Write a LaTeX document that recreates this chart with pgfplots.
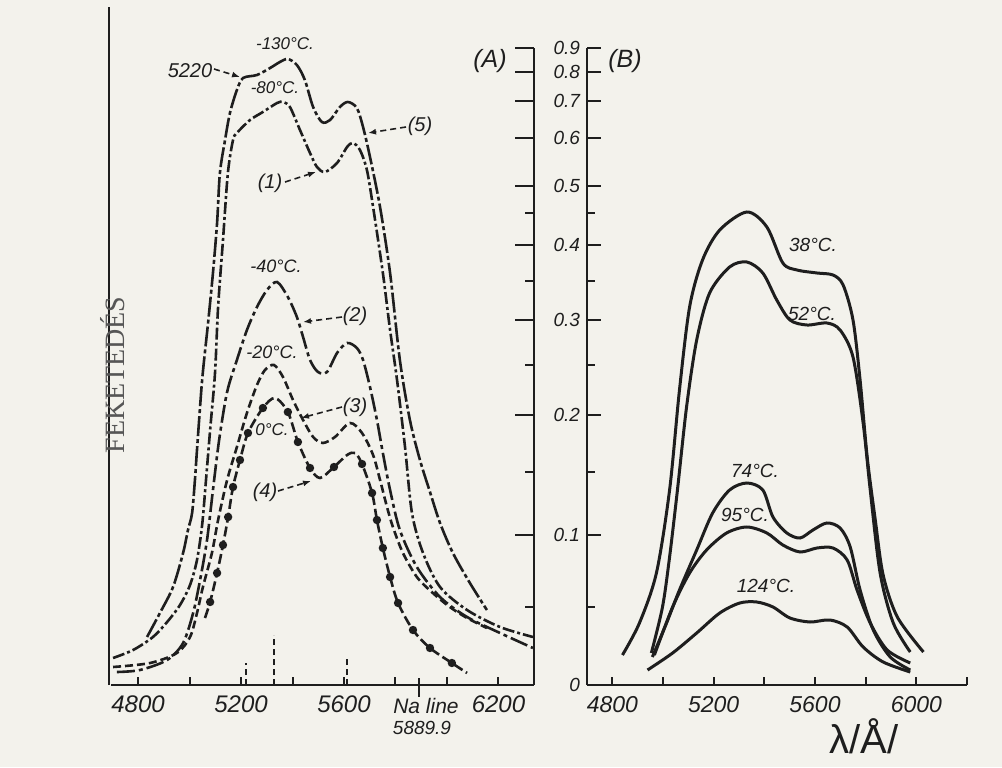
\documentclass[border=0pt]{standalone}
\usepackage{pgfplots}
\pgfplotsset{compat=1.18}
\usepackage{fontspec}
\setmainfont{Liberation Sans}
\newfontfamily\serifA{Liberation Serif}
\usetikzlibrary{arrows.meta}
\definecolor{ink}{RGB}{30,30,30}
\definecolor{paper}{RGB}{243,242,236}
\newcommand\hand[1]{\fontsize{#1}{#1}\selectfont\itshape}

\pgfplotsset{
  panel/.style={
    scale only axis, height=318.5pt, ymin=0, ymax=637,
    axis x line*=bottom, tick align=inside,
    axis line style={ink, line width=1pt},
    every tick/.style={ink, line width=1pt},
    xtick style={/pgfplots/major tick length=4pt},
    xticklabel style={font=\hand{12}, ink, yshift=-2pt},
    minor ytick={78,213,320,404,472},
  },
  c5/.style={ink, line width=1.3pt, smooth, dash pattern=on 10pt off 1.5pt on 2pt off 1.5pt},
  c1/.style={ink, line width=1.3pt, smooth, dash pattern=on 6pt off 1.5pt on 1.5pt off 1.5pt},
  c2/.style={ink, line width=1.3pt, smooth, dash pattern=on 9pt off 2pt on 2pt off 2pt},
  c3/.style={ink, line width=1.3pt, smooth, dash pattern=on 4pt off 2pt},
  c4/.style={ink, line width=1.3pt, smooth, dash pattern=on 5pt off 2pt},
  bc/.style={ink, line width=1.5pt, smooth},
}

\begin{document}
\begin{tikzpicture}[x=0.5pt, y=0.5pt,
  arr/.style={ink, line width=0.8pt, dash pattern=on 3pt off 2pt, -{Latex[length=4pt,width=3pt]}}]
\fill[paper] (0,0) rectangle (1002,767);
\useasboundingbox (0,0) rectangle (1002,767);

% panel A
\begin{axis}[panel, at={(55.5pt,41pt)}, anchor=south west, width=211.5pt,
  xmin=4695, xmax=6338, axis y line*=right,
  xtick={4800,5000,...,6200}, xticklabels={4800,,5200,,5600,,,6200},
  ytick={150,270,365,440,499,547,584,613,637}, yticklabels={,,,,,,,,},
  ytick style={/pgfplots/major tick length=9.5pt, /pgfplots/minor tick length=4.5pt},
]
% (5) -130 C
\addplot[c5] coordinates {
 (4835,48)(4885,72)(4936,98)(4975,132)(4994,155)(5010,172)(5021,205)(5029,235)
 (5049,305)(5072,362)(5091,412)(5107,462)(5118,512)(5138,545)(5157,572)(5184,595)
 (5208,607)(5262,610)(5313,617)(5351,623)(5382,626)(5417,620)(5448,605)(5480,578)
 (5514,563)(5546,565)(5584,578)(5615,583)(5650,577)(5674,558)(5701,528)(5740,478)
 (5779,412)(5817,325)(5856,265)(5895,225)(5934,193)(5973,162)(6023,132)(6089,102)(6155,75)};
% (1) -80 C
\addplot[c1] coordinates {
 (4703,27)(4781,35)(4858,48)(4913,63)(4963,80)(5002,100)(5029,125)(5049,160)
 (5064,205)(5080,255)(5099,312)(5111,378)(5130,445)(5149,512)(5169,545)(5184,552)
 (5235,565)(5285,573)(5340,582)(5363,583)(5390,578)(5429,555)(5468,532)(5495,518)
 (5526,513)(5573,522)(5612,538)(5635,542)(5662,535)(5689,515)(5713,478)(5751,412)
 (5779,355)(5806,305)(5837,238)(5864,172)(5907,132)(5973,98)(6078,75)(6206,58)(6334,48)};
% (2) -40 C
\addplot[c2] coordinates {
 (4718,13)(4808,15)(4913,25)(4975,42)(5014,72)(5041,105)(5068,145)(5091,195)
 (5115,245)(5146,293)(5184,325)(5223,355)(5262,378)(5301,395)(5340,403)(5382,388)
 (5417,368)(5441,348)(5468,325)(5499,313)(5534,313)(5573,332)(5612,342)(5650,337)
 (5674,325)(5701,298)(5728,265)(5751,232)(5779,195)(5817,155)(5883,118)(5973,88)
 (6078,68)(6206,52)(6334,37)};
% (3) -20 C
\addplot[c3] coordinates {
 (4703,18)(4847,22)(4951,32)(5002,48)(5029,72)(5052,98)(5087,132)(5111,165)
 (5146,205)(5184,238)(5223,272)(5262,300)(5293,315)(5328,320)(5363,308)(5402,285)
 (5441,265)(5480,248)(5518,242)(5565,248)(5623,262)(5670,252)(5713,230)(5740,205)
 (5767,178)(5790,158)(5829,132)(5883,108)(5945,92)(6011,78)(6078,67)(6155,57)};
% (4) 0 C
\addplot[c4, mark=*, mark size=1.4pt, mark options={solid, fill=ink},
  mark indices={2,3,4,5,6,7,8,9,11,12,13,15,18,19,20,21,22,23,24,25,26}] coordinates {
 (5060,67)(5080,83)(5107,112)(5130,140)(5150,168)(5169,198)(5196,225)(5227,252)
 (5285,277)(5332,287)(5382,273)(5421,243)(5468,217)(5507,207)(5561,218)(5612,230)
 (5643,232)(5670,221)(5709,192)(5728,165)(5751,137)(5779,108)(5810,82)(5868,55)
 (5934,37)(6019,22)(6078,12)};
% line marks on the wavelength axis
\addplot[ink, line width=1pt, dash pattern=on 3pt off 2pt] coordinates {(5220,0)(5220,22)};
\addplot[ink, line width=1pt, dash pattern=on 3pt off 2pt] coordinates {(5328,0)(5328,50)};
\addplot[ink, line width=1pt, dash pattern=on 3pt off 2pt] coordinates {(5612,0)(5612,26)};
\end{axis}

% panel B
\begin{axis}[panel, at={(293.5pt,41pt)}, anchor=south west, width=190pt,
  xmin=4700, xmax=6200, axis y line*=left,
  xtick={4800,5000,...,6200}, xticklabels={4800,,5200,,5600,,6000,},
  xticklabel style={font=\hand{11.5}},
  ytick={0,150,270,365,440,499,547,584,613,637},
  yticklabels={0,0.1,0.2,0.3,0.4,0.5,0.6,0.7,0.8,0.9},
  yticklabel style={font=\hand{9.5}, ink},
  ytick style={/pgfplots/major tick length=7pt, /pgfplots/minor tick length=4pt},
]
\addplot[bc] coordinates {
 (4840,30)(4907,62)(4974,112)(5026,195)(5065,295)(5105,378)(5156,425)(5224,455)
 (5331,473)(5410,458)(5473,422)(5529,415)(5608,412)(5671,410)(5711,400)(5750,365)
 (5778,305)(5806,228)(5838,165)(5869,110)(5925,68)(6028,33)};
\addplot[bc] coordinates {
 (4954,32)(4998,78)(5026,128)(5057,195)(5093,278)(5133,345)(5184,392)(5263,418)
 (5331,423)(5394,412)(5449,385)(5501,365)(5568,360)(5647,362)(5699,355)(5750,328)
 (5790,262)(5818,195)(5857,112)(5909,62)(5976,33)};
\addplot[bc] coordinates {
 (4958,28)(5014,62)(5065,95)(5133,135)(5196,172)(5263,195)(5331,202)(5394,195)
 (5434,168)(5489,152)(5541,147)(5592,155)(5647,162)(5699,157)(5739,138)(5778,95)
 (5830,55)(5897,28)(5976,15)};
\addplot[bc] coordinates {
 (4966,30)(5038,78)(5105,112)(5172,135)(5251,152)(5331,158)(5410,152)(5473,140)
 (5541,133)(5608,137)(5671,137)(5727,125)(5766,95)(5818,62)(5885,35)(5976,22)};
\addplot[bc] coordinates {
 (4939,15)(5038,32)(5133,52)(5224,72)(5303,82)(5370,83)(5434,78)(5501,67)
 (5580,63)(5659,65)(5727,58)(5790,38)(5869,23)(5976,13)};
\end{axis}

% left frame line of panel A, Na line tick
\draw[ink, line width=0.9pt] (109,82) -- (109,760);
\draw[ink, line width=1pt] (419,89) -- (419,70);
\node[font=\hand{10.5}, ink] at (426,61) {Na line};
\node[font=\hand{9.5}, ink] at (422,39) {5889.9};

% annotations, panel A
\node[font=\hand{8.5}, ink] at (285,723) {-130°C.};
\node[font=\hand{10}, ink] at (190,696) {5220};
\draw[arr] (214,698) -- (240,690);
\node[font=\hand{8.5}, ink] at (275,679) {-80°C.};
\node[font=\hand{10}, ink] at (420,641) {(5)};
\draw[arr] (406,640) -- (368,634);
\node[font=\hand{10}, ink] at (270,584) {(1)};
\draw[arr] (285,585) -- (316,595);
\node[font=\hand{9}, ink] at (276,501) {-40°C.};
\node[font=\hand{10}, ink] at (355,451) {(2)};
\draw[arr] (342,450) -- (303,445);
\node[font=\hand{9}, ink] at (272,415) {-20°C.};
\node[font=\hand{10}, ink] at (355,360) {(3)};
\draw[arr] (342,360) -- (301,349);
\node[font=\hand{8.5}, ink] at (272,337) {0°C.};
\node[font=\hand{10}, ink] at (265,275) {(4)};
\draw[arr] (278,276) -- (311,286);
\node[font=\hand{12.5}, ink] at (490,706) {(A)};
\node[font=\hand{12.5}, ink] at (625,706) {(B)};

% annotations, panel B
\node[font=\hand{9.5}, ink] at (813,522) {38°C.};
\node[font=\hand{9.5}, ink] at (812,453) {52°C.};
\node[font=\hand{9.5}, ink] at (755,296) {74°C.};
\node[font=\hand{9.5}, ink] at (745,252) {95°C.};
\node[font=\hand{9.5}, ink] at (766,181) {124°C.};

% axis titles
\node[font=\fontsize{20}{20}\selectfont, ink] at (864,31) {λ/Å/};
\node[rotate=90, font=\serifA\fontsize{14}{14}\selectfont, text=ink!75] at (113,392) {FEKETEDÉS};
\end{tikzpicture}
\end{document}
